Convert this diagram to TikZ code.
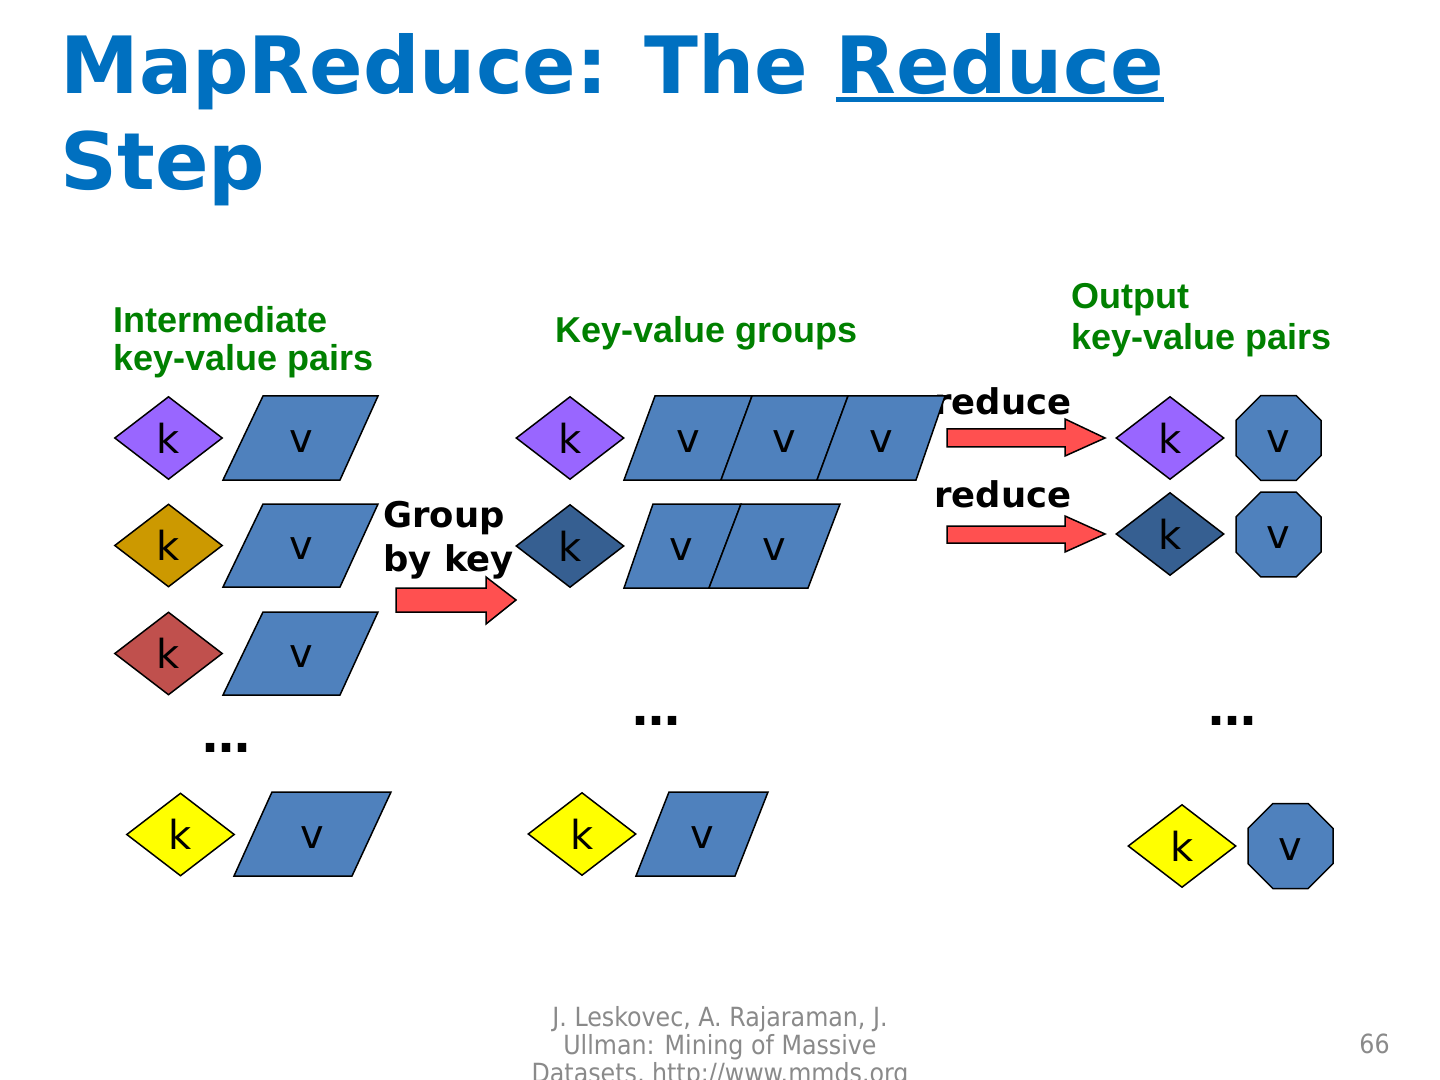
\documentclass[tikz,border=0pt]{standalone}
\usepackage{fontspec}
\setmainfont{DejaVu Sans}
\newfontfamily\arialfont{Liberation Sans}
\newfontfamily\condfont{DejaVu Sans Condensed}
\usetikzlibrary{shapes.geometric}
\definecolor{titleblue}{HTML}{0070C0}
\definecolor{lblgreen}{HTML}{008000}
\definecolor{kpurple}{HTML}{9966FF}
\definecolor{kgold}{HTML}{CC9900}
\definecolor{kred}{HTML}{C0504D}
\definecolor{kdark}{HTML}{365F91}
\definecolor{kyellow}{HTML}{FFFF00}
\definecolor{vblue}{HTML}{4F81BD}
\definecolor{arrred}{HTML}{FF5050}
\definecolor{footgrey}{HTML}{8A8A8A}
\newcommand\ulword[1]{\setbox0\hbox{#1}\rlap{\rule[-3.8pt]{\wd0}{2.1pt}}\box0}
% parallelogram: name, bottom-left x, bottom-right x, top-left x, top-right x, top y, bottom y
\newcommand\vpara[7]{%
  \draw[vshape] (#2,#7) -- (#4,#6) -- (#5,#6) -- (#3,#7) -- cycle;
  \node[vtext] (#1) at ({(#2+#3+#4+#5)/4},{(#6+#7)/2}) {v};}
% block arrow: shaft left x, shaft top y, shaft bottom y, head base x, head top y, head bottom y, tip x, tip y
\newcommand\blockarr[8]{%
  \draw[redarrow] (#1,#2) -- (#4,#2) -- (#4,#5) -- (#7,#8) -- (#4,#6) -- (#4,#3) -- (#1,#3) -- cycle;}
\tikzset{
  kdiam/.style={diamond, draw=black, line width=0.75pt, inner sep=0pt,
    minimum width=54pt, minimum height=41.5pt, font=\fontsize{20}{24}\selectfont},
  voct/.style={regular polygon, regular polygon sides=8, draw=black, line width=0.75pt,
    fill=vblue, inner sep=0pt, minimum size=46pt, text height=14pt, text depth=0pt,
    font=\fontsize{20}{24}\selectfont},
  vshape/.style={draw=black, line width=0.75pt, fill=vblue, line join=miter},
  vtext/.style={inner sep=0pt, text height=14pt, text depth=0pt, font=\fontsize{20}{24}\selectfont},
  redarrow/.style={draw=black, line width=0.75pt, fill=arrred},
  greenlbl/.style={anchor=base west, inner sep=0pt, text=lblgreen,
    font=\arialfont\bfseries\fontsize{18}{21.6}\selectfont},
  boldlbl/.style={anchor=base west, inner sep=0pt,
    font=\bfseries\fontsize{17.7}{21.6}\selectfont},
  dotslbl/.style={anchor=base, inner sep=0pt, font=\bfseries\fontsize{24}{28}\selectfont},
  footlbl/.style={anchor=base, inner sep=0pt, text=footgrey,
    font=\condfont\fontsize{13.2}{14}\selectfont}
}
\begin{document}
\begin{tikzpicture}[x=0.5pt,y=-0.5pt]
\useasboundingbox (0,0) rectangle (1440,1080);
\fill[white] (0,0) rectangle (1440,1080);

% title
\node[anchor=base west, inner sep=0pt, text=titleblue, font=\bfseries\fontsize{39.5}{48}\selectfont]
  (t1) at (60,94) {MapReduce: The \ulword{Reduce}};
\node[anchor=base west, inner sep=0pt, text=titleblue, font=\bfseries\fontsize{39.5}{48}\selectfont]
  (t2) at (60,190) {Step};

% column headings
\node[greenlbl] (h1a) at (113,333) {Intermediate};
\node[greenlbl] (h1b) at (113,371) {key-value pairs};
\node[greenlbl] (h2) at (555,343) {Key-value groups};
\node[greenlbl] (h3a) at (1071,309) {Output};
\node[greenlbl] (h3b) at (1071,350) {key-value pairs};

% labels (drawn first, shapes may overlap)
\node[boldlbl] (red1) at (934,415) {reduce};
\node[boldlbl] (red2) at (934,508) {reduce};
\node[boldlbl] (grp1) at (383,527) {Group};
\node[boldlbl] (grp2) at (383,571) {by key};

% left column
\node[kdiam, fill=kpurple] (lk1) at (168.5,438) {k};
\vpara{lv1}{223}{340}{263}{378}{396}{480}
\node[kdiam, fill=kgold] (lk2) at (168.5,545.5) {k};
\vpara{lv2}{223}{340}{263}{378}{504}{587}
\node[kdiam, fill=kred] (lk3) at (168.5,653.5) {k};
\vpara{lv3}{223}{340}{263}{378}{612}{695}
\node[dotslbl] (ld) at (226.5,752) {…};
\node[kdiam, fill=kyellow] (lk4) at (180.5,834.5) {k};
\vpara{lv4}{234}{352}{272}{391}{792}{876}

% group arrow
\blockarr{396}{588}{612}{486}{577}{624}{516}{600}

% middle column
\node[kdiam, fill=kpurple] (mk1) at (570,438) {k};
\vpara{mv1a}{624}{721}{655}{752}{396}{480}
\vpara{mv1b}{721}{817}{752}{848}{396}{480}
\vpara{mv1c}{817}{916}{848}{945}{396}{480}
\node[kdiam, fill=kdark] (mk2) at (570,546) {k};
\vpara{mv2a}{624}{709}{653}{741}{504}{588}
\vpara{mv2b}{709}{808}{741}{840}{504}{588}
\node[dotslbl] (md) at (656.5,725) {…};
\node[kdiam, fill=kyellow] (mk4) at (582,834) {k};
\vpara{mv4}{636}{735}{669}{768}{792}{876}

% reduce arrows
\blockarr{947}{429}{447}{1065}{419}{456}{1105}{438}
\blockarr{947}{526}{543}{1065}{516}{552}{1105}{534}

% output column
\node[kdiam, fill=kpurple] (ok1) at (1170,438) {k};
\node[voct] (ov1) at (1278.5,438) {v};
\node[kdiam, fill=kdark] (ok2) at (1170,534) {k};
\node[voct] (ov2) at (1278.5,534.5) {v};
\node[dotslbl] (od) at (1232.5,725) {…};
\node[kdiam, fill=kyellow] (ok4) at (1182,846) {k};
\node[voct] (ov4) at (1290.5,846) {v};

% footer
\node[footlbl] (f1) at (720,1026) {J. Leskovec, A. Rajaraman, J.};
\node[footlbl] (f2) at (720,1054) {Ullman: Mining of Massive};
\node[footlbl] (f3) at (720,1082) {Datasets, http://www.mmds.org};
\node[footlbl, anchor=base east] (pg) at (1390,1053) {66};
\end{tikzpicture}
\end{document}
